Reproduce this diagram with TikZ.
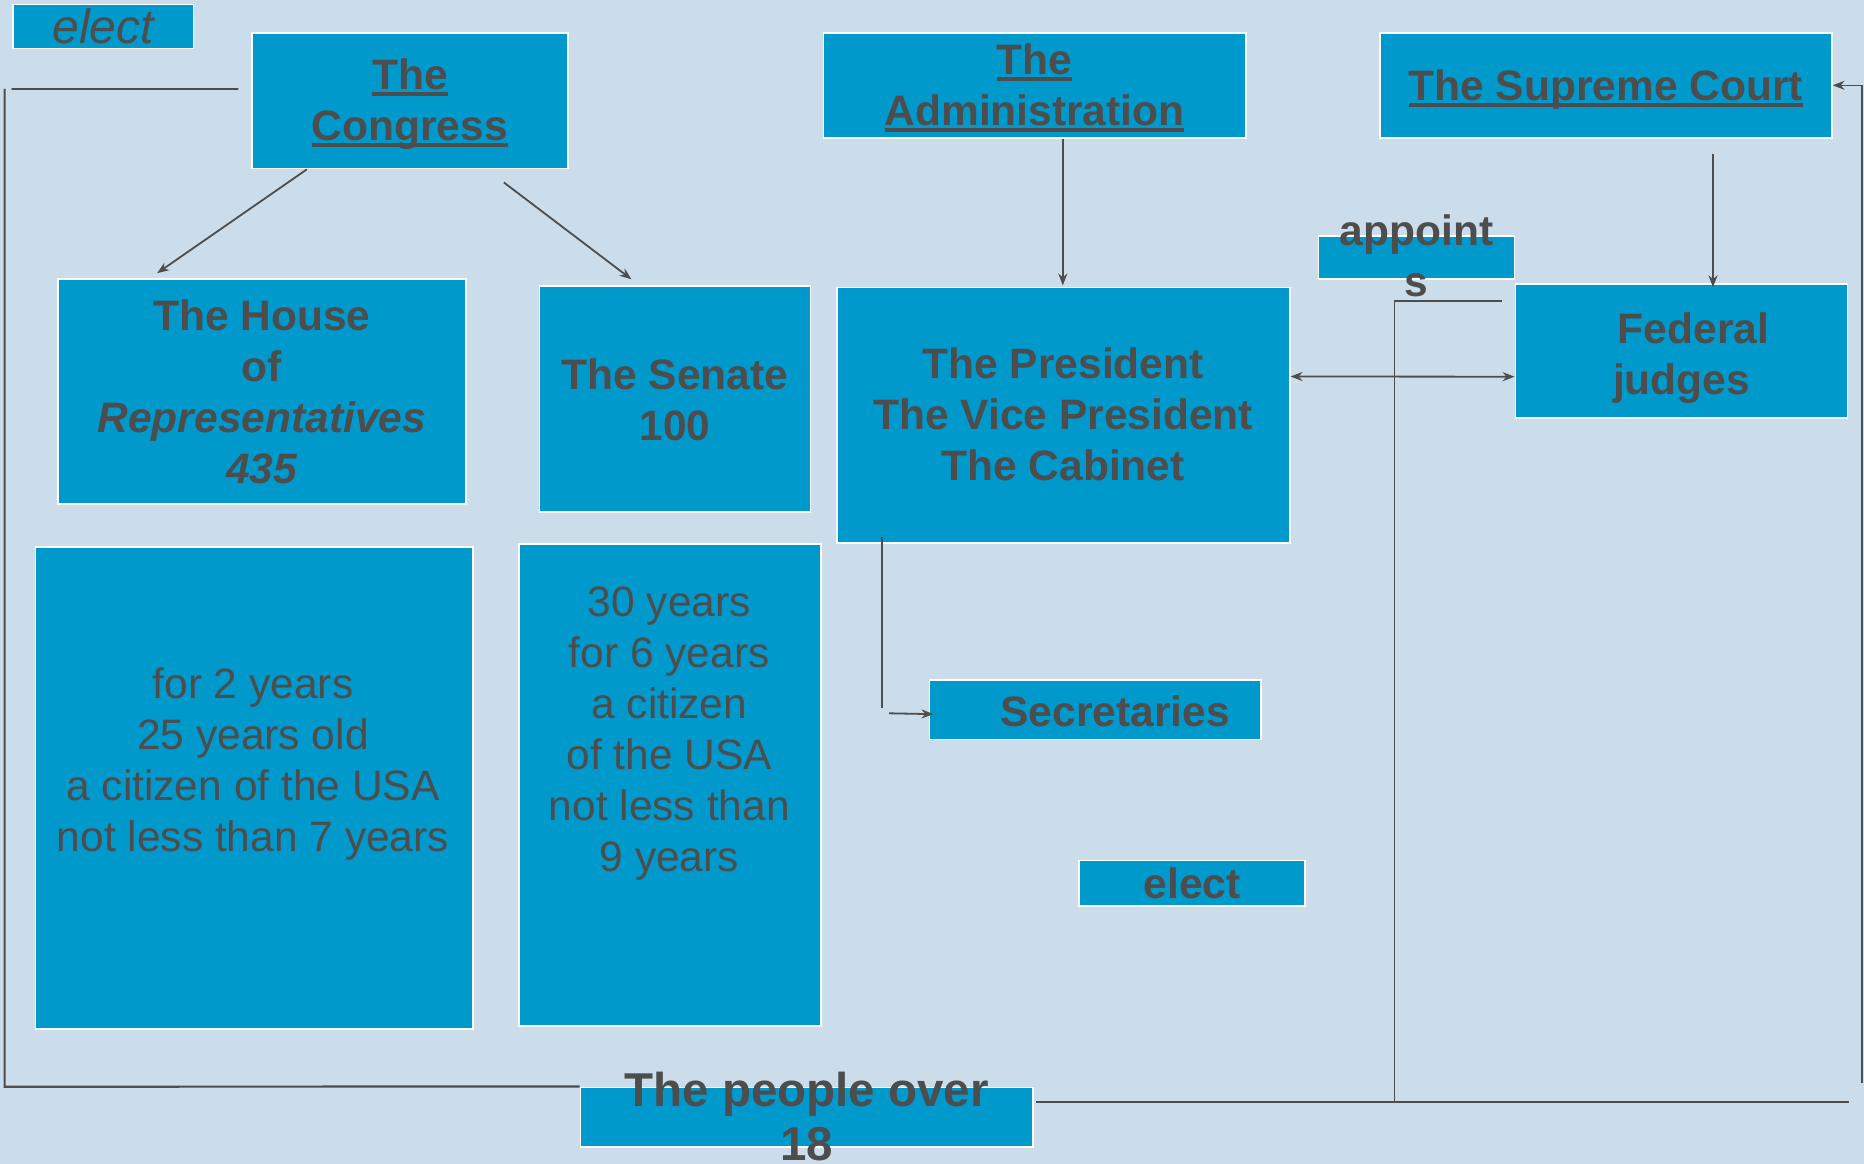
\documentclass[tikz,border=0pt]{standalone}
\usepackage{fontspec}
\setmainfont{Liberation Sans}
\usetikzlibrary{arrows.meta,calc}
\definecolor{bg}{HTML}{CBDDEB}
\definecolor{boxc}{HTML}{0099CC}
\definecolor{ink}{HTML}{4D4D4D}
\newcommand{\myul}[1]{\setbox0\hbox{#1}\rlap{\rule[-6.5pt]{\wd0}{4pt}}\box0}
\tikzset{
  box/.style={draw=white, line width=1.8pt, fill=boxc, inner sep=0pt, anchor=north west},
  lbl/.style={text=ink, font=\fontsize{42.5}{51}\selectfont\bfseries, align=center, inner sep=0pt},
  plainlbl/.style={text=ink, font=\fontsize{42.5}{51}\selectfont, align=center, inner sep=0pt},
  conn/.style={draw=ink, line width=1.8pt},
  arr/.style={conn, -{Stealth[length=12pt,width=9pt]}},
  darr/.style={conn, {Stealth[length=12pt,width=9pt]}-{Stealth[length=12pt,width=9pt]}}
}
\begin{document}
\begin{tikzpicture}[x=1pt,y=-1pt]
\useasboundingbox (0,0) rectangle (1864,1164);
\fill[bg] (0,0) rectangle (1864,1164);
% boxes
\node[box, minimum width=180.7pt, minimum height=44pt] (elect1) at (11.9,3.6) {};
\node[box, minimum width=316.3pt, minimum height=135.5pt] (cong) at (250.8,32.1) {};
\node[box, minimum width=422.1pt, minimum height=104.6pt] (admin) at (822.6,32.1) {};
\node[box, minimum width=451.8pt, minimum height=104.6pt] (sup) at (1379,32.1) {};
\node[box, minimum width=196pt, minimum height=42.5pt] (app) at (1317.5,235.2) {};
\node[box, minimum width=332pt, minimum height=134pt] (fed) at (1514.6,282.8) {};
\node[box, minimum width=407.7pt, minimum height=224.7pt] (house) at (57.1,278.2) {};
\node[box, minimum width=271.1pt, minimum height=225.9pt] (senate) at (538.5,285.3) {};
\node[box, minimum width=453pt, minimum height=255.6pt] (pres) at (835.7,286.5) {};
\node[box, minimum width=437.5pt, minimum height=482.6pt] (hd) at (34.5,545.7) {};
\node[box, minimum width=302pt, minimum height=481.4pt] (sd) at (518.3,543.3) {};
\node[box, minimum width=331.6pt, minimum height=59.5pt] (sec) at (928.5,679) {};
\node[box, minimum width=225.9pt, minimum height=45.2pt] (elect2) at (1078.2,859.5) {};
\node[box, minimum width=452.5pt, minimum height=59.5pt] (people) at (579.5,1086.5) {};
% texts
\node[text=ink, inner sep=0pt, font=\fontsize{48}{55}\selectfont\itshape] (elect1T) at (elect1.center) {elect};
\node[lbl] (congT) at ($(cong.center)+(0,3)$) {\myul{The}\\\myul{Congress}};
\node[lbl] (adminT) at ($(admin.center)+(0,3)$) {\myul{The}\\\myul{Administration}};
\node[lbl] (supT) at ($(sup.center)+(0,4)$) {\myul{The Supreme Court}};
\node[lbl] (appT) at ($(app.center)+(0,-2)$) {appoint\\s};
\node[lbl] (fedT) at ($(fed.center)+(0,7)$) {\hspace*{24pt}Federal\\judges};
\node[lbl] (houseT) at ($(house.center)+(0,0.6)$) {The House\\of\\\textit{Representatives}\\\textit{435}};
\node[lbl] (senT) at ($(senate.center)+(0,0.6)$) {The Senate\\100};
\node[lbl] (presT) at ($(pres.center)+(0,-0.5)$) {The President\\The Vice President\\The Cabinet};
\node[plainlbl] (hdT) at (253,764.4) {for 2 years\\25 years old\\a citizen of the USA\\not less than 7 years};
\node[plainlbl] (sdT) at (669.3,733.6) {30 years\\for 6 years\\a citizen\\of the USA\\not less than\\9 years};
\node[lbl] (secT) at ($(sec.center)+(20,2)$) {Secretaries};
\node[lbl] (elect2T) at ($(elect2.center)+(0,0)$) {elect};
\node[text=ink, inner sep=0pt, align=center, font=\fontsize{47.5}{54}\selectfont\bfseries] (peopleT) at ($(people.center)+(0,-0.8)$) {The people over\\18};
% connectors
\draw[arr] ($(cong.south west)+(56,0)$) -- ($(house.north west)+(100,-5)$);
\draw[arr] ($(cong.south west)+(253,13)$) -- ($(senate.north west)+(93,-6)$);
\draw[arr] ($(admin.south west)+(240.2,0)$) -- ($(pres.north west)+(227.1,-1)$);
\draw[arr] ($(sup.south west)+(334,15.5)$) -- ($(fed.north west)+(198.4,4.5)$);
\draw[darr] ($(pres.north east)+(0,90)$) -- ($(fed.north west)+(0,93.9)$);
\coordinate (secbend) at (882.2,708.3);
\draw[conn] ($(pres.south west)+(46.5,-7)$) -- (secbend);
\draw[arr] ($(secbend)+(7,5)$) -- ($(sec.west)+(5,4.5)$);
% left loop
\coordinate (lt) at (4.6,89);
\coordinate (lb) at (4.6,1086.7);
\draw[conn, line width=2.2pt] (people.north west) -- (lb) -- (lt);
\coordinate (ltop) at (11.5,89);
\draw[conn] (ltop) -- ($(cong.north west)+(-12.4,57)$);
% right loop
\coordinate (rb) at (1849,1101.7);
\draw[conn] ($(people.north east)+(2,15.2)$) -- (rb);
\coordinate (rv) at (1862,1083);
\draw[arr, line width=1.5pt] (rv) -- (rv |- sup.east) -- (sup.east);
% middle
\coordinate (mb) at (1394.3,1103);
\coordinate (fapp) at ($(fed.north west)+(-13,18)$);
\draw[conn, line width=1.4pt] (mb) -- (mb |- fapp) -- (fapp);
\end{tikzpicture}
\end{document}
